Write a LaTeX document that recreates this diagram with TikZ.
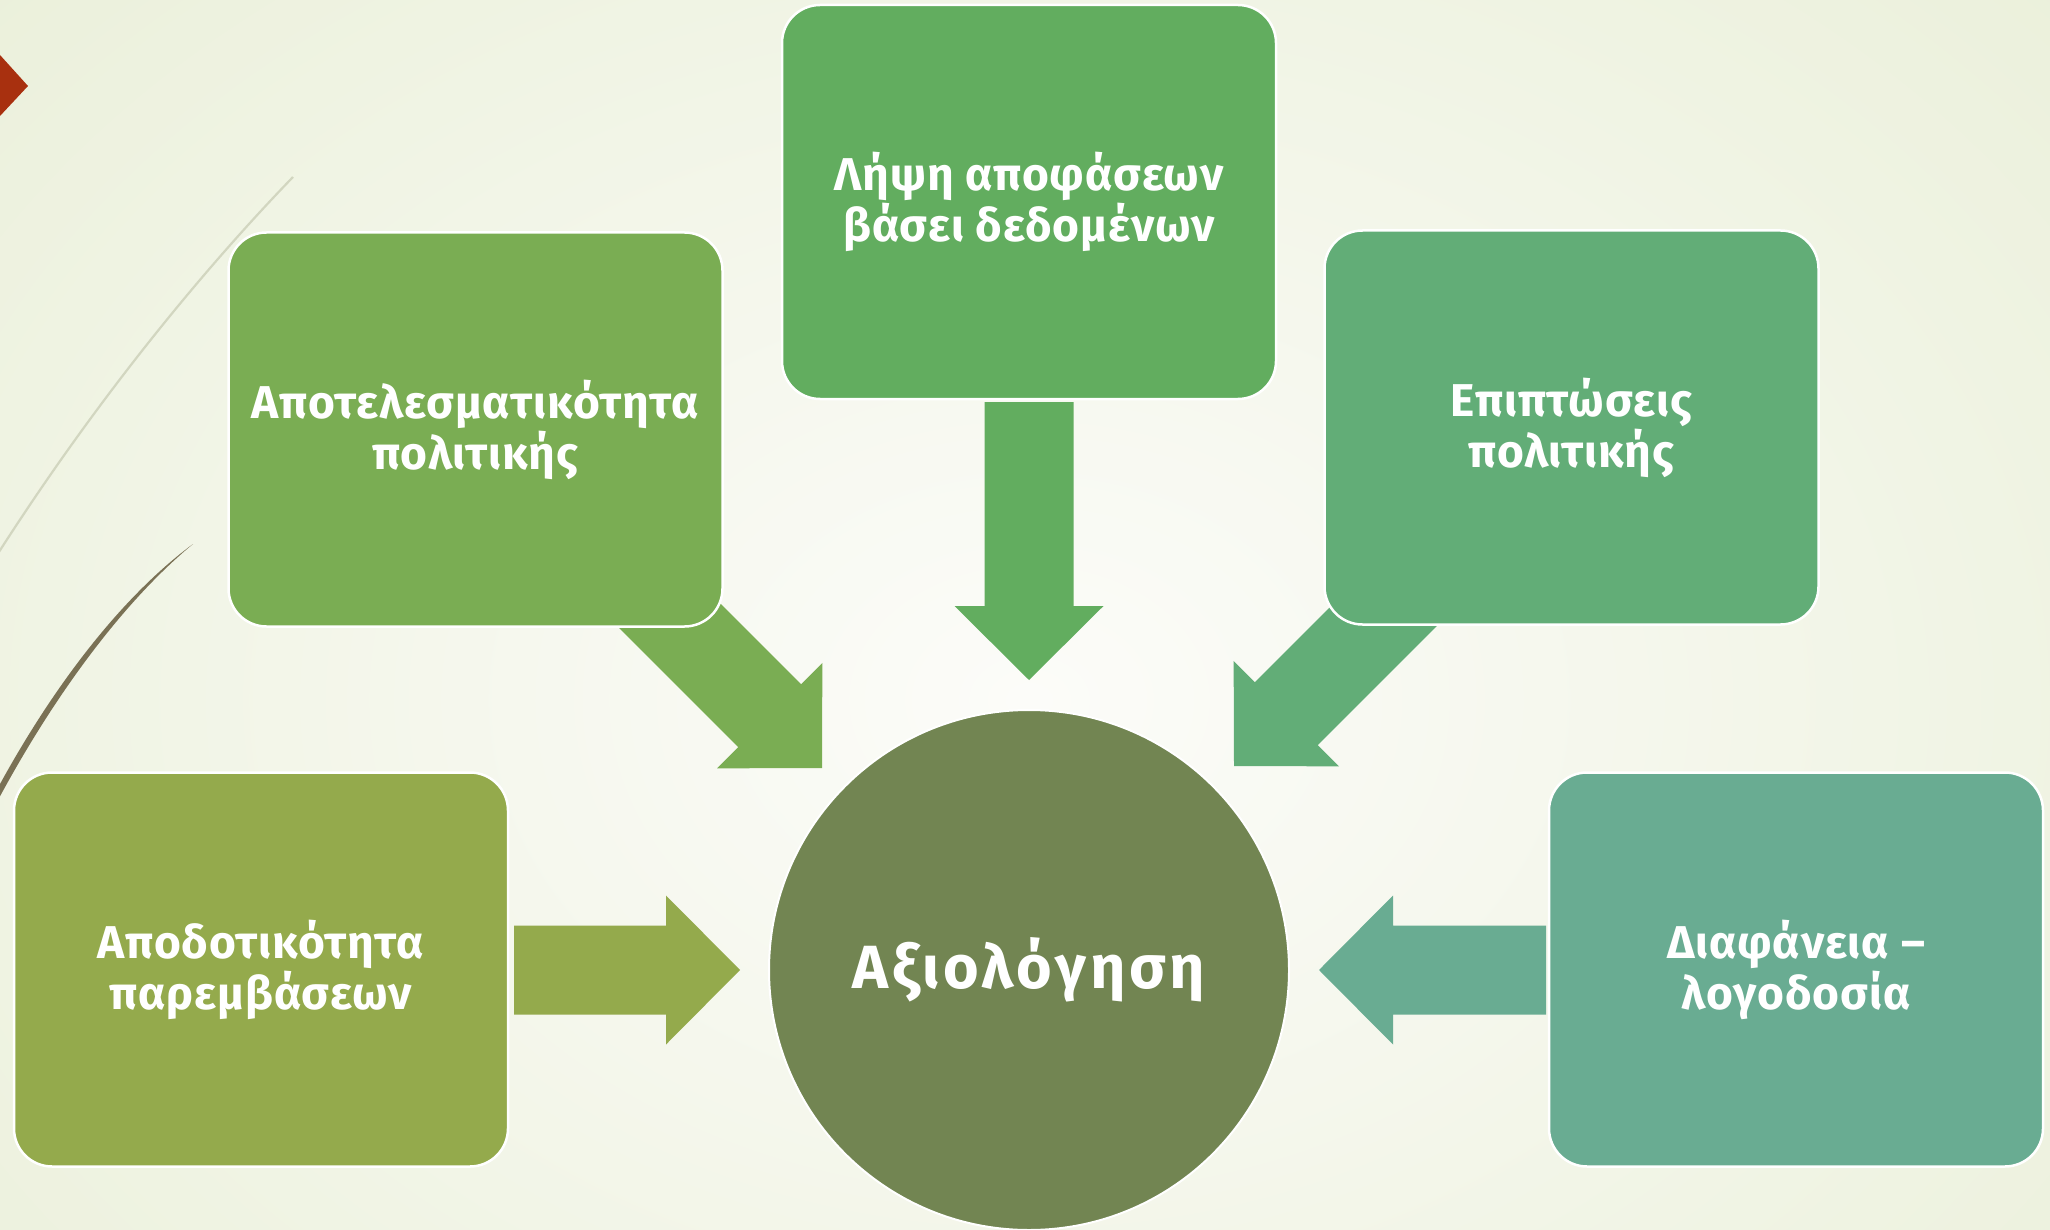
\documentclass[tikz,border=0pt]{standalone}
\usepackage{fontspec}
\setmainfont{Fira Sans}
\definecolor{bgin}{HTML}{FCFCF9}
\definecolor{bgout}{HTML}{DFE8C6}
\definecolor{cT}{HTML}{62AD5F}
\definecolor{cTL}{HTML}{7AAD53}
\definecolor{cTR}{HTML}{62AD77}
\definecolor{cBL}{HTML}{94AA4C}
\definecolor{cBR}{HTML}{69AC92}
\definecolor{cC}{HTML}{728552}
\definecolor{redtri}{HTML}{A8300F}
\definecolor{lightcurve}{HTML}{D2D6C0}
\definecolor{darkcurve}{HTML}{7A7155}
\tikzset{
  card/.style={rectangle, rounded corners=38pt, draw=white, line width=2.5pt,
    minimum width=494pt, minimum height=394pt, text=white, align=center,
    font=\fontsize{46}{51}\selectfont\bfseries\addfontfeatures{LetterSpace=2}},
  hub/.style={circle, draw=white, line width=2pt, fill=cC, minimum size=520pt,
    text=white, font=\fontsize{61}{64}\selectfont\bfseries\addfontfeatures{LetterSpace=6}},
  pics/barrow/.style n args={2}{code={
    \fill[#2] (0,0) -- (-74,74.5) -- (-74,44.5) -- (-74-#1,44.5)
      -- (-74-#1,-44.5) -- (-74,-44.5) -- (-74,-74.5) -- cycle;}}
}
\begin{document}
\begin{tikzpicture}[x=1pt,y=-1pt]
\useasboundingbox (0,0) rectangle (2050,1230);
\begin{scope}
  \clip (0,0) rectangle (2050,1230);
  \shade[inner color=bgin, outer color=bgout] (-1371,-1100) rectangle (3429,2500);
  % theme curves
  \draw[lightcurve, line width=2.2pt] (293,177) .. controls (205,268) and (95,400) .. (-10,566);
  \fill[darkcurve] (193,544) .. controls (120,598) and (50,690) .. (-7,797)
    -- (-2,800) .. controls (55,694) and (124,601) .. (193,544) -- cycle;
  % red marker
  \fill[redtri] (0,55) -- (28,86) -- (0,116) -- cycle;
\end{scope}

% arrow tips
\coordinate (tipT) at (1029,680);
\coordinate (tipTL) at (822,768);
\coordinate (tipTR) at (1234,766);
\coordinate (tipBL) at (740,970);
\coordinate (tipBR) at (1319,970);

\pic[rotate=-90] at (tipT) {barrow={204}{cT}};
\pic[rotate=-45] at (tipTL) {barrow={210}{cTL}};
\pic[rotate=-135] at (tipTR) {barrow={210}{cTR}};
\pic at (tipBL) {barrow={152}{cBL}};
\pic[rotate=180] at (tipBR) {barrow={153}{cBR}};

% boxes
\node[card, fill=cT] (top) at (1029,202) {Λήψη αποφάσεων\\βάσει δεδομένων};
\node[card, fill=cTL] (tl) at (475.5,429.5) {Αποτελεσματικότητα\\πολιτικής};
\node[card, fill=cTR] (tr) at (1571.5,427.5) {Επιπτώσεις\\πολιτικής};
\node[card, fill=cBL] (bl) at (261,969.5) {Αποδοτικότητα\\παρεμβάσεων};
\node[card, fill=cBR] (br) at (1796,969.5) {Διαφάνεια –\\λογοδοσία};

\node[hub] (hub) at (1029,970) {Αξιολόγηση};
\end{tikzpicture}
\end{document}
